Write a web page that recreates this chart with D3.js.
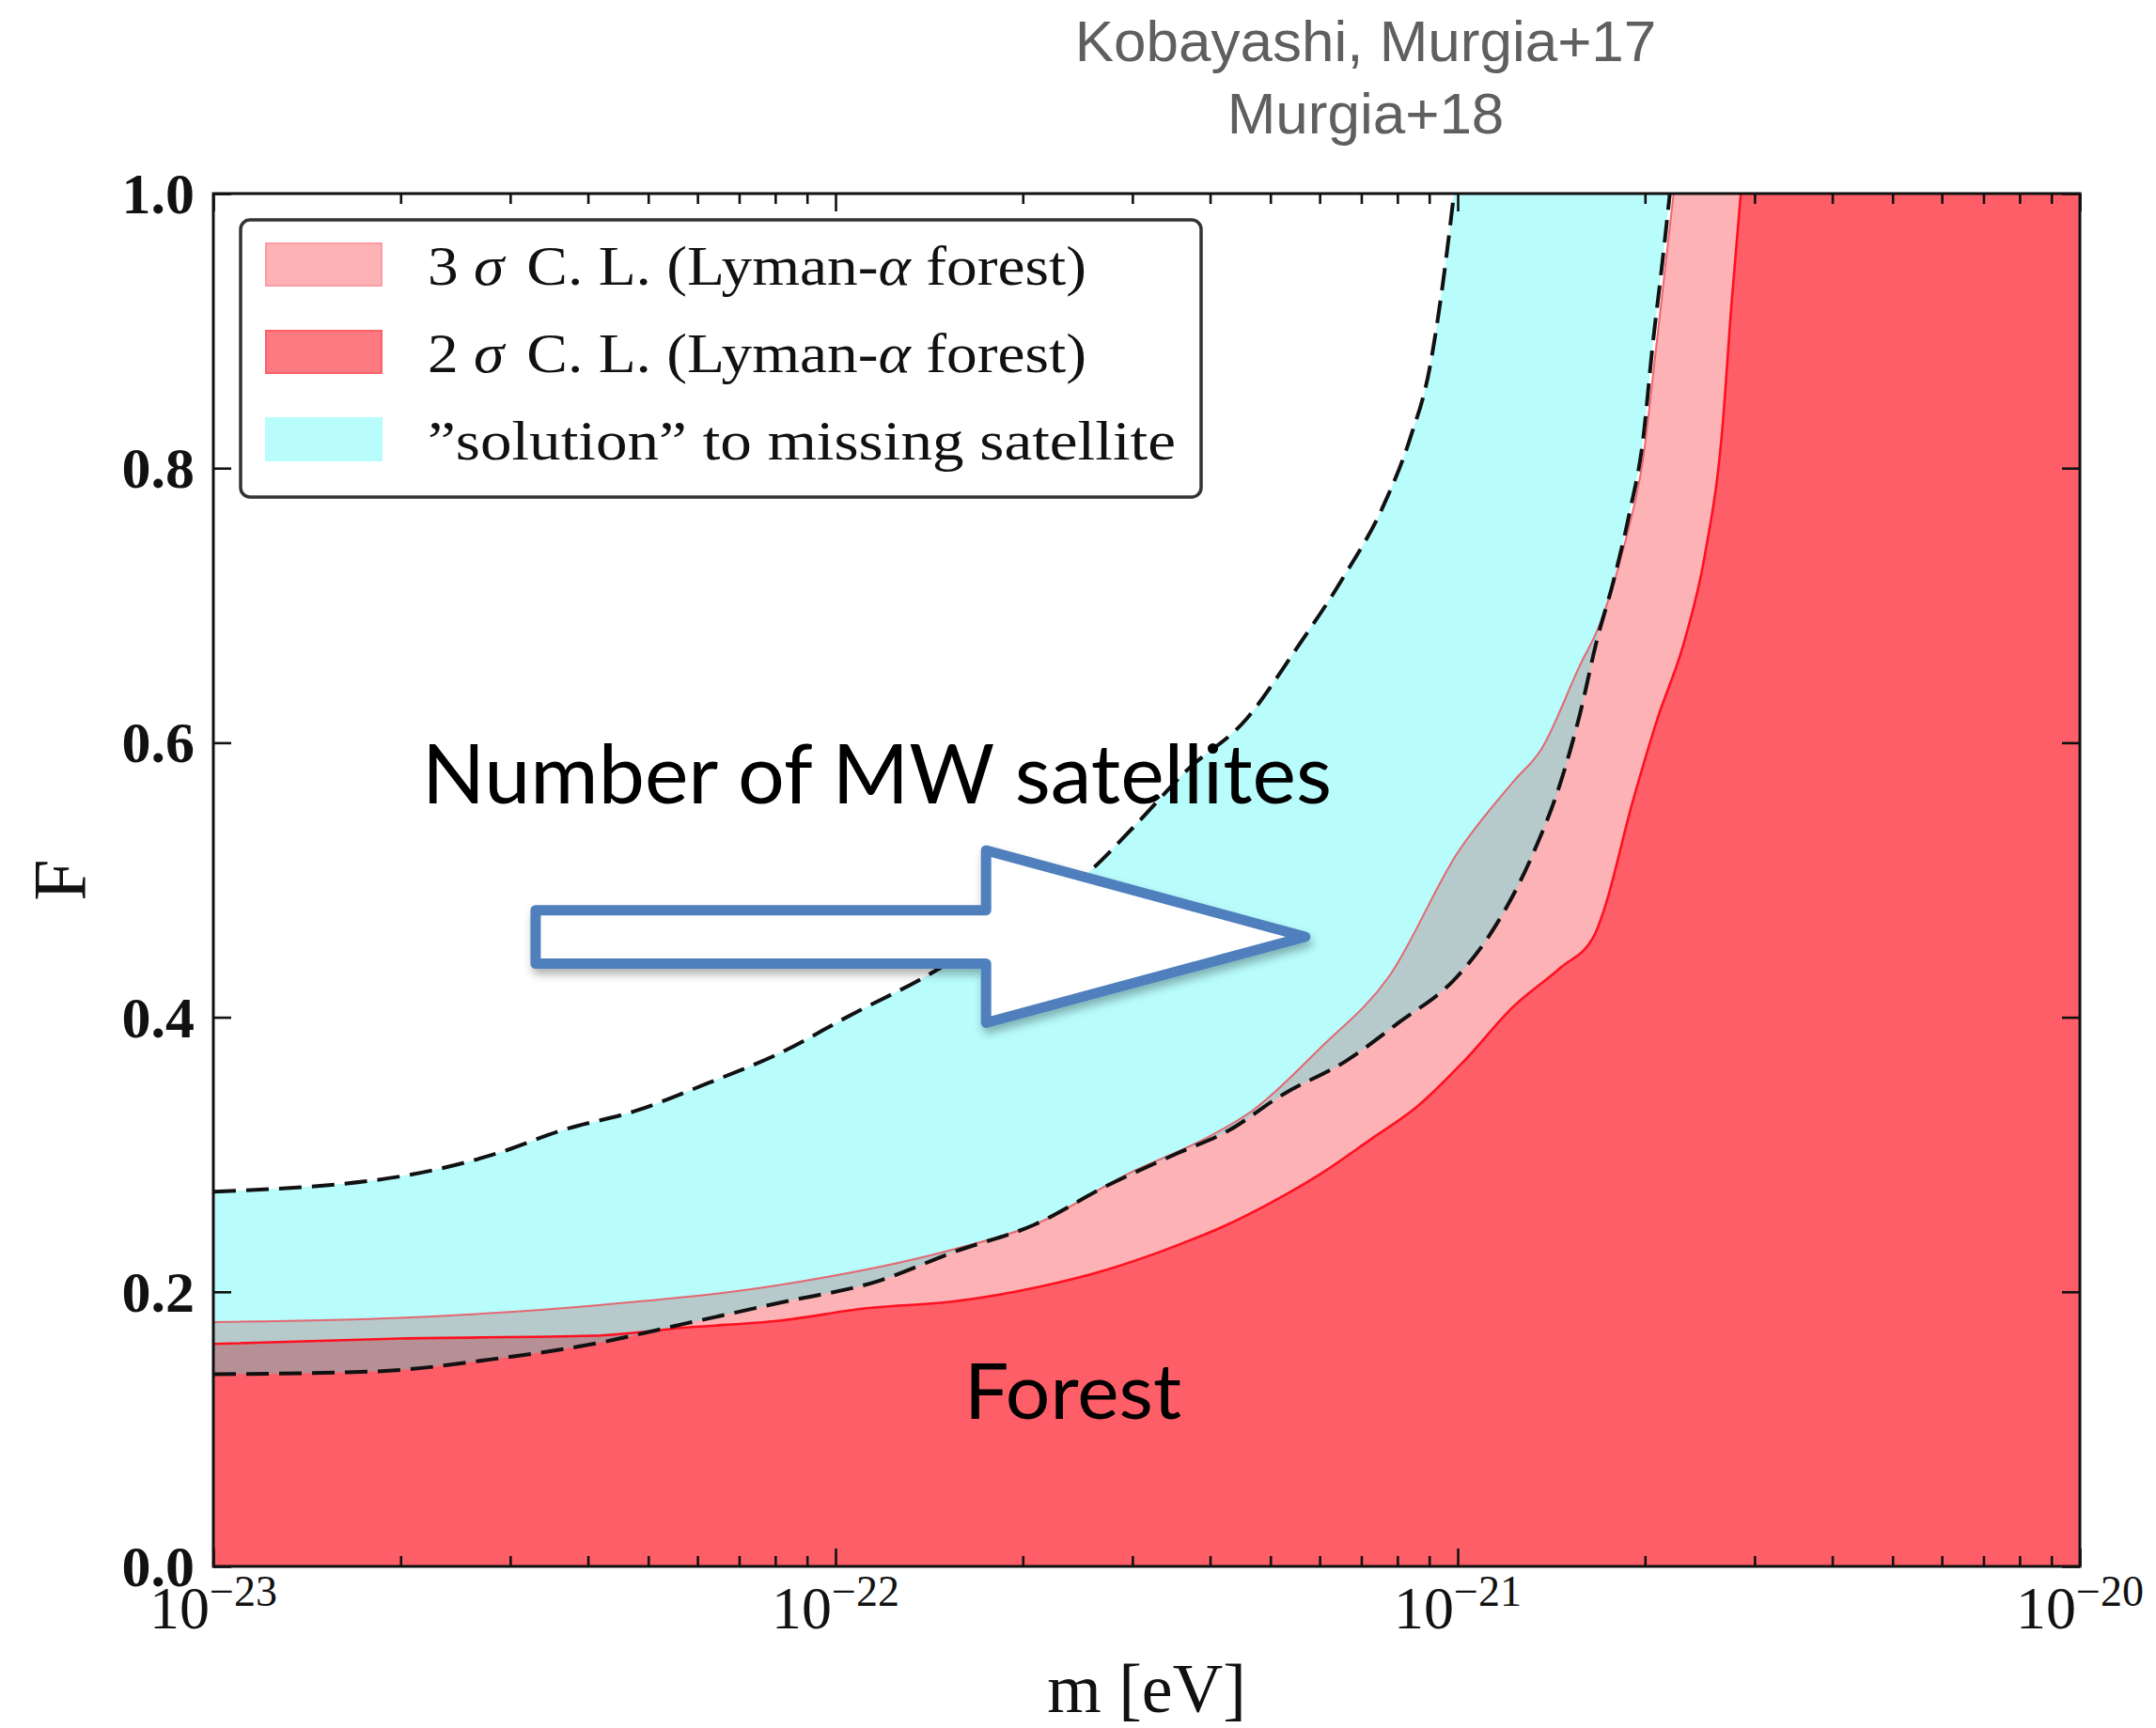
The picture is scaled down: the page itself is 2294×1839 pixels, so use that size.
<!DOCTYPE html>
<html>
<head>
<meta charset="utf-8">
<script src="https://cdn.jsdelivr.net/npm/d3@7"></script>
<style>
  body { margin: 0; background: #fff; }
  svg { display: block; }
</style>
</head>
<body>
<svg id="chart" width="2294" height="1839"></svg>
<script>
// ---- Axis ticks ----
const xTickExponents = [-23, -22, -21, -20];
const yTickValues = [0, 0.2, 0.4, 0.6, 0.8, 1.0];
const yTickLabels = ["0.0", "0.2", "0.4", "0.6", "0.8", "1.0"];

// ---- 3 sigma Lyman-alpha forest bound: log10(m/eV) and F ----
const sigma3LogM = [-23.0, -22.70, -22.39, -22.09, -21.81, -21.68, -21.53, -21.40, -21.33, -21.22, -21.11, -21.00, -20.91, -20.866, -20.804, -20.772, -20.731, -20.702, -20.681, -20.653];
const sigma3F    = [0.178, 0.181, 0.190, 0.205, 0.231, 0.249, 0.286, 0.313, 0.332, 0.378, 0.430, 0.520, 0.572, 0.595, 0.656, 0.686, 0.746, 0.807, 0.888, 1.0];

// ---- 2 sigma Lyman-alpha forest bound ----
const sigma2LogM = [-23.0, -22.70, -22.39, -22.24, -22.09, -21.95, -21.81, -21.68, -21.565, -21.45, -21.37, -21.30, -21.22, -21.14, -21.065, -20.99, -20.91, -20.835, -20.78, -20.765, -20.72, -20.68, -20.635, -20.603, -20.575, -20.56, -20.545];
const sigma2F    = [0.162, 0.166, 0.168, 0.174, 0.179, 0.188, 0.193, 0.203, 0.216, 0.234, 0.249, 0.265, 0.286, 0.311, 0.335, 0.368, 0.408, 0.436, 0.460, 0.478, 0.555, 0.616, 0.675, 0.736, 0.827, 0.919, 1.0];

// ---- Missing-satellite "solution" band: upper and lower edges ----
const bandUpperLogM = [-23.0, -22.70, -22.55, -22.437, -22.32, -22.205, -22.089, -21.974, -21.858, -21.72, -21.59, -21.52, -21.435, -21.34, -21.26, -21.183, -21.119, -21.077, -21.045, -21.024, -21.006];
const bandUpperF    = [0.273, 0.284, 0.300, 0.318, 0.332, 0.352, 0.374, 0.402, 0.429, 0.468, 0.507, 0.539, 0.580, 0.617, 0.668, 0.721, 0.773, 0.821, 0.873, 0.934, 1.0];
const bandLowerLogM = [-23.0, -22.74, -22.55, -22.39, -22.24, -22.09, -21.93, -21.81, -21.68, -21.565, -21.45, -21.37, -21.28, -21.18, -21.095, -21.00, -20.94, -20.88, -20.834, -20.804, -20.776, -20.75, -20.724, -20.702, -20.687, -20.671, -20.659];
const bandLowerF    = [0.140, 0.142, 0.151, 0.162, 0.177, 0.192, 0.208, 0.229, 0.249, 0.277, 0.301, 0.317, 0.344, 0.368, 0.396, 0.430, 0.466, 0.518, 0.572, 0.620, 0.675, 0.717, 0.767, 0.821, 0.888, 0.950, 1.0];

// ---- Annotation arrow outline (log10 m, F) ----
const arrowLogM = [-22.482, -21.758, -21.758, -21.245, -21.758, -21.758, -22.482];
const arrowF    = [0.478, 0.478, 0.5216, 0.4586, 0.396, 0.439, 0.439];

// ---- Legend ----
const legendKeys = ["sigma3", "sigma2", "band"];

const svg = d3.select("#chart");
const X0 = 227, X1 = 2213, Y0 = 1667, Y1 = 206;
const x = d3.scaleLog().domain([1e-23, 1e-20]).range([X0, X1]);
const y = d3.scaleLinear().domain([0, 1]).range([Y0, Y1]);

const toPts = (lm, f) => lm.map((v, i) => [Math.pow(10, v), f[i]]);
const sigma3 = toPts(sigma3LogM, sigma3F);
const sigma2 = toPts(sigma2LogM, sigma2F);
const bandUp = toPts(bandUpperLogM, bandUpperF);
const bandLo = toPts(bandLowerLogM, bandLowerF);

const line = d3.line().x(d => x(d[0])).y(d => y(d[1])).curve(d3.curveMonotoneX);
const lin = d3.line().x(d => x(d[0])).y(d => y(d[1]));

const [mMin, mMax] = x.domain();
// region to the right of / below an edge that ends at F = 1
const regionPath = pts => line(pts) + `L${x(mMax)},${y(1)}L${x(mMax)},${y(0)}L${x(mMin)},${y(0)}Z`;

const defs = svg.append("defs");
defs.append("clipPath").attr("id", "plotClip")
  .append("rect").attr("x", X0).attr("y", Y1).attr("width", X1 - X0).attr("height", Y0 - Y1);
const shadow = defs.append("filter").attr("id", "shadow")
  .attr("x", "-10%").attr("y", "-10%").attr("width", "130%").attr("height", "140%");
shadow.append("feDropShadow").attr("dx", 2).attr("dy", 6).attr("stdDeviation", 5)
  .attr("flood-color", "#000").attr("flood-opacity", 0.3);

const plot = svg.append("g").attr("clip-path", "url(#plotClip)");

// Lyman-alpha excluded regions
plot.append("path").attr("d", regionPath(sigma3)).attr("fill", "#fdb3b6");
plot.append("path").attr("d", regionPath(sigma2)).attr("fill", "#fe5e68");

// satellite band (translucent cyan)
const bandPath = line(bandUp)
  + `L${x(bandLo[bandLo.length - 1][0])},${y(1)}`
  + line(bandLo.slice().reverse()).replace(/^M/, "L") + "Z";
plot.append("path").attr("d", bandPath)
  .attr("fill", "rgb(40,246,246)").attr("fill-opacity", 0.33);

// bounding lines
plot.append("path").attr("d", line(sigma3)).attr("fill", "none")
  .attr("stroke", "#ee4a55").attr("stroke-width", 2).attr("stroke-opacity", 0.8);
plot.append("path").attr("d", line(sigma2)).attr("fill", "none")
  .attr("stroke", "#ff1020").attr("stroke-width", 2.6);
[bandUp, bandLo].forEach(pts => {
  plot.append("path").attr("d", line(pts)).attr("fill", "none")
    .attr("stroke", "#111").attr("stroke-width", 4)
    .attr("stroke-dasharray", "24 11");
});

// ---- Axes (inward ticks on all four sides) ----
const majors = xTickExponents.map(e => Math.pow(10, e));
const minors = [];
xTickExponents.slice(0, -1).forEach(e => {
  for (let k = 2; k <= 9; k++) minors.push(k * Math.pow(10, e));
});
const styleAxis = g => {
  g.select(".domain").remove();
  g.selectAll(".tick line").attr("stroke", "#111").attr("stroke-width", 2.6);
  g.selectAll(".tick text").remove();
};
svg.append("g").attr("transform", `translate(0,${Y0})`)
  .call(d3.axisBottom(x).tickValues(majors).tickSize(-19)).call(styleAxis);
svg.append("g").attr("transform", `translate(0,${Y0})`)
  .call(d3.axisBottom(x).tickValues(minors).tickSize(-11)).call(styleAxis);
svg.append("g").attr("transform", `translate(0,${Y1})`)
  .call(d3.axisTop(x).tickValues(majors).tickSize(-19)).call(styleAxis);
svg.append("g").attr("transform", `translate(0,${Y1})`)
  .call(d3.axisTop(x).tickValues(minors).tickSize(-11)).call(styleAxis);
svg.append("g").attr("transform", `translate(${X0},0)`)
  .call(d3.axisLeft(y).tickValues(yTickValues).tickSize(-19)).call(styleAxis);
svg.append("g").attr("transform", `translate(${X1},0)`)
  .call(d3.axisRight(y).tickValues(yTickValues).tickSize(-19)).call(styleAxis);

// frame
svg.append("rect").attr("x", X0).attr("y", Y1).attr("width", X1 - X0).attr("height", Y0 - Y1)
  .attr("fill", "none").attr("stroke", "#111").attr("stroke-width", 3);

const serif = "'Liberation Serif', 'DejaVu Serif', serif";

// y tick labels
svg.append("g").selectAll("text").data(yTickValues).join("text")
  .attr("x", X0 - 20).attr("y", d => y(d)).attr("dy", "0.34em")
  .attr("text-anchor", "end").attr("font-family", serif).attr("font-size", 62)
  .attr("font-weight", "bold").attr("fill", "#111")
  .text((d, i) => yTickLabels[i]);

// x tick labels 10^n
const xl = svg.append("g").selectAll("text").data(xTickExponents).join("text")
  .attr("x", e => x(Math.pow(10, e))).attr("y", 1733)
  .attr("text-anchor", "middle").attr("font-family", serif).attr("font-size", 64)
  .attr("fill", "#111");
xl.append("tspan").text("10");
xl.append("tspan").attr("dy", -24).attr("font-size", 46).text(e => "\u2212" + Math.abs(e));

// axis titles
svg.append("text").attr("x", (X0 + X1) / 2).attr("y", 1822).attr("text-anchor", "middle")
  .attr("font-family", serif).attr("font-size", 74).attr("fill", "#111").text("m [eV]");
svg.append("text").attr("transform", `translate(91,${(Y0 + Y1) / 2}) rotate(-90)`)
  .attr("text-anchor", "middle").attr("font-family", serif).attr("font-size", 80)
  .attr("fill", "#111").text("F");

// ---- Legend ----
const lg = svg.append("g");
lg.append("rect").attr("x", 256).attr("y", 234).attr("width", 1022).attr("height", 295)
  .attr("rx", 10).attr("fill", "#fff").attr("stroke", "#333").attr("stroke-width", 3.5);
const swatch = {
  sigma3: { fill: "#fdb3b6", stroke: "#fb9ca2" },
  sigma2: { fill: "#fe7a81", stroke: "#fd5f69" },
  band:   { fill: "#b8fcfc", stroke: "#b8fcfc" }
};
const rowTop = [259, 352, 445];
legendKeys.forEach((k, i) => {
  lg.append("rect").attr("x", 283).attr("y", rowTop[i]).attr("width", 123).attr("height", 45)
    .attr("fill", swatch[k].fill).attr("stroke", swatch[k].stroke).attr("stroke-width", 2);
});
const legendText = (row, len) => lg.append("text").attr("x", 455).attr("y", rowTop[row] + 44)
  .attr("font-family", serif).attr("font-size", 60).attr("fill", "#111")
  .attr("textLength", len).attr("lengthAdjust", "spacingAndGlyphs");
[["3", 0], ["2", 1]].forEach(([n, row]) => {
  const t = legendText(row, 701);
  t.append("tspan").text(n + " ");
  t.append("tspan").attr("font-style", "italic").text("\u03c3");
  t.append("tspan").attr("dx", 22).text("C. L. (Lyman-");
  t.append("tspan").attr("font-style", "italic").text("\u03b1");
  t.append("tspan").text(" forest)");
});
legendText(2, 796).text("\u201dsolution\u201d to missing satellite");

// ---- Annotations ----
const sans = "Lato, 'Open Sans', 'Noto Sans', sans-serif";
svg.append("path").attr("d", lin(toPts(arrowLogM, arrowF)) + "Z")
  .attr("fill", "#fff").attr("stroke", "#4f7fbd").attr("stroke-width", 11)
  .attr("stroke-linejoin", "round").attr("filter", "url(#shadow)");

svg.append("text").attr("x", 449).attr("y", 855)
  .attr("font-family", sans).attr("font-size", 88).attr("fill", "#000")
  .attr("textLength", 968).attr("lengthAdjust", "spacingAndGlyphs")
  .text("Number of MW satellites");
svg.append("text").attr("x", 1026).attr("y", 1510)
  .attr("font-family", sans).attr("font-size", 81).attr("fill", "#000")
  .attr("textLength", 231).attr("lengthAdjust", "spacingAndGlyphs")
  .text("Forest");

// reference note above the plot
const refLines = ["Kobayashi, Murgia+17", "Murgia+18"];
svg.append("g").selectAll("text").data(refLines).join("text")
  .attr("x", 1453).attr("y", (d, i) => 65 + i * 77).attr("text-anchor", "middle")
  .attr("font-family", "'Liberation Sans', Arial, sans-serif").attr("font-size", 62)
  .attr("fill", "#5f5f5f").text(d => d);
</script>
</body>
</html>
